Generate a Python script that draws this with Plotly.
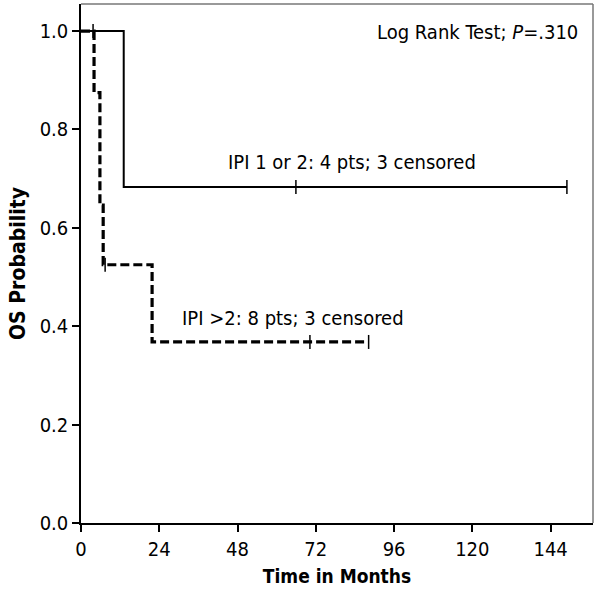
import plotly.graph_objects as go

# Kaplan-Meier step data (months, survival probability)
ipi12_time = [0, 13.1, 149.0]
ipi12_surv = [1.0, 0.683, 0.683]
ipi12_cens_time = [3.7, 65.9, 149.0]
ipi12_cens_surv = [1.0, 0.683, 0.683]

ipi3_time = [0, 4.0, 5.8, 6.8, 21.8, 88.2]
ipi3_surv = [1.0, 0.875, 0.646, 0.525, 0.368, 0.368]
ipi3_cens_time = [7.4, 70.2, 88.2]
ipi3_cens_surv = [0.525, 0.368, 0.368]

x_ticks = [0, 24, 48, 72, 96, 120, 144]
y_ticks = [0.0, 0.2, 0.4, 0.6, 0.8, 1.0]
y_tick_labels = ["0.0", "0.2", "0.4", "0.6", "0.8", "1.0"]

FONT = "DejaVu Sans Condensed, Liberation Sans, sans-serif"
FS = 20

fig = go.Figure()
fig.add_trace(go.Scatter(x=ipi12_time, y=ipi12_surv, mode="lines", line_shape="hv",
                         line=dict(color="black", width=2), showlegend=False))
fig.add_trace(go.Scatter(x=ipi12_cens_time, y=ipi12_cens_surv, mode="markers",
                         marker=dict(symbol="line-ns", size=10, line=dict(color="black", width=1.5)),
                         showlegend=False))
fig.add_trace(go.Scatter(x=ipi3_time, y=ipi3_surv, mode="lines", line_shape="hv",
                         line=dict(color="black", width=3.2, dash="9px,4px"), showlegend=False))
fig.add_trace(go.Scatter(x=ipi3_cens_time, y=ipi3_cens_surv, mode="markers",
                         marker=dict(symbol="line-ns", size=10, line=dict(color="black", width=1.5)),
                         showlegend=False))

fig.add_annotation(x=152.9, y=0.998, xanchor="right", yanchor="middle", showarrow=False,
                   text="Log Rank Test; <i>P</i>=.310", font=dict(size=FS, color="black", family=FONT))
fig.add_annotation(x=44.4, y=0.734, xanchor="left", yanchor="middle", showarrow=False,
                   text="IPI 1 or 2: 4 pts; 3 censored", font=dict(size=FS, color="black", family=FONT))
fig.add_annotation(x=30.3, y=0.417, xanchor="left", yanchor="middle", showarrow=False,
                   text="IPI >2: 8 pts; 3 censored", font=dict(size=FS, color="black", family=FONT))

# top/right frame in gray
fig.add_shape(type="line", xref="paper", yref="paper", x0=0, x1=1, y0=1, y1=1,
              line=dict(color="#777777", width=1.5))
fig.add_shape(type="line", xref="paper", yref="paper", x0=1, x1=1, y0=0, y1=1,
              line=dict(color="#777777", width=1.5))

fig.update_layout(
    width=600, height=590,
    margin=dict(l=81, r=7, t=4, b=67),
    paper_bgcolor="white", plot_bgcolor="white",
    font=dict(family=FONT, size=FS, color="black"),
    xaxis=dict(range=[0, 157], tickvals=x_ticks, ticks="outside", ticklen=7, tickwidth=1.5,
               tickcolor="black", showline=True, linecolor="black", linewidth=1.5,
               showgrid=False, zeroline=False, automargin=False,
               title=dict(text="<b>Time in Months</b>", standoff=10, font=dict(size=19, family=FONT)),
               tickfont=dict(size=FS, family=FONT)),
    yaxis=dict(range=[0, 1.055], tickvals=y_ticks, ticktext=y_tick_labels, ticks="outside",
               ticklen=7, tickwidth=1.5, tickcolor="black", showline=True, linecolor="black",
               linewidth=1.5, showgrid=False, zeroline=False, automargin=False,
               title=dict(text="<b>OS Probability</b>", standoff=8, font=dict(size=21, family=FONT)),
               tickfont=dict(size=FS, family=FONT)),
)

fig.write_html("out.html", config={"displayModeBar": False},
               post_script="document.body.style.margin='0';")
